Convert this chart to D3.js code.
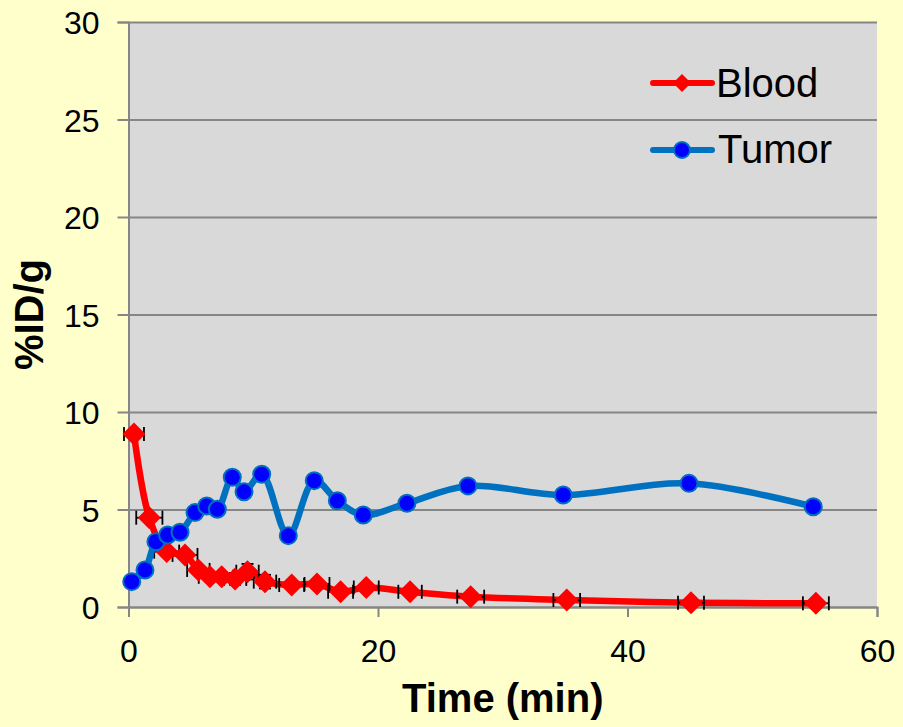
<!DOCTYPE html>
<html>
<head>
<meta charset="utf-8">
<script src="https://cdn.jsdelivr.net/npm/d3@7"></script>
<style>
  body { margin: 0; background: #FFFFCC; }
  text { font-family: "Liberation Sans", Arial, sans-serif; fill: #000; }
</style>
</head>
<body>
<div id="chart-area"></div>
<script>
// %ID/g over time, blood vs tumor

const WIDTH = 903;
const HEIGHT = 727;

// blood series (min, %ID/g) with x / y error
const bloodTime = [0.44, 1.67, 3.06, 4.53, 5.6, 6.53, 7.47, 8.54, 9.54, 10.94, 13.08, 15.11, 17.0, 19.06, 22.57, 27.43, 35.13, 45.09, 55.1];
const bloodValue = [8.87, 4.58, 2.84, 2.67, 1.9, 1.55, 1.55, 1.44, 1.81, 1.3, 1.13, 1.18, 0.78, 1.0, 0.78, 0.53, 0.36, 0.22, 0.19];
const bloodTimeErr = [0.8, 1.05, 1.0, 1.0, 0.9, 0.9, 0.9, 0.9, 0.9, 0.9, 1.0, 1.0, 1.0, 1.0, 0.94, 1.08, 1.07, 1.04, 1.04];
const bloodValueErr = [0.1, 0.2, 0.2, 0.2, 0.2, 0.15, 0.15, 0.3, 0.4, 0.35, 0.15, 0.15, 0.1, 0.1, 0.1, 0.05, 0.05, 0.05, 0.05];

// tumor series
const tumorTime = [0.26, 1.32, 2.2, 3.14, 4.13, 5.33, 6.27, 7.12, 8.32, 9.26, 10.68, 12.81, 14.89, 16.74, 18.82, 22.32, 27.21, 34.85, 44.93, 54.89];
const tumorValue = [1.3, 1.9, 3.35, 3.69, 3.83, 4.84, 5.18, 5.01, 6.65, 5.91, 6.81, 3.66, 6.48, 5.45, 4.72, 5.32, 6.21, 5.74, 6.34, 5.14];

const xTicks = [0, 20, 40, 60];
const yTicks = [0, 5, 10, 15, 20, 25, 30];

const margin = {top: 22, right: 26, bottom: 120, left: 128.5};

let svg = d3.select("#chart-area").append("svg")
    .attr("width", WIDTH)
    .attr("height", HEIGHT);

svg.append("rect")
    .attr("width", WIDTH)
    .attr("height", HEIGHT)
    .attr("fill", "#FFFFCC");

let xScale = d3.scaleLinear().domain([0, 60]).range([margin.left, WIDTH - margin.right]);
let yScale = d3.scaleLinear().domain([0, 30]).range([HEIGHT - margin.bottom, margin.top]);

// plot area
svg.append("rect")
    .attr("x", xScale(0))
    .attr("y", yScale(30))
    .attr("width", xScale(60) - xScale(0))
    .attr("height", yScale(0) - yScale(30))
    .attr("fill", "#D9D9D9");

// horizontal grid lines
svg.append("g")
    .attr("transform", `translate(${xScale(0)},0)`)
    .call(d3.axisLeft(yScale).tickValues(yTicks).tickSize(-(xScale(60) - xScale(0))).tickFormat(""))
    .call(g => g.select(".domain").remove())
    .call(g => g.selectAll("line").attr("stroke", "#868686").attr("stroke-width", 2));

// y axis
svg.append("g")
    .attr("transform", `translate(${xScale(0)},0)`)
    .call(d3.axisLeft(yScale).tickValues(yTicks).tickSize(11).tickPadding(18))
    .call(g => g.select(".domain").attr("stroke", "#868686").attr("stroke-width", 2))
    .call(g => g.selectAll("line").attr("stroke", "#868686").attr("stroke-width", 2))
    .call(g => g.selectAll("text").attr("font-size", 32).attr("font-family", "Liberation Sans, Arial, sans-serif").attr("dy", "0.36em"));

// x axis
svg.append("g")
    .attr("transform", `translate(0,${yScale(0)})`)
    .call(d3.axisBottom(xScale).tickValues(xTicks).tickSize(10).tickPadding(22))
    .call(g => g.select(".domain").attr("stroke", "#868686").attr("stroke-width", 2))
    .call(g => g.selectAll("line").attr("stroke", "#868686").attr("stroke-width", 2))
    .call(g => g.selectAll("text").attr("font-size", 32).attr("font-family", "Liberation Sans, Arial, sans-serif").attr("dy", "0.71em"));

// axis titles
svg.append("text")
    .attr("x", (xScale(0) + xScale(60)) / 2)
    .attr("y", 712)
    .attr("text-anchor", "middle")
    .attr("font-size", 40)
    .attr("font-weight", "bold")
    .text("Time (min)");

svg.append("text")
    .attr("transform", `translate(43,${yScale(15)}) rotate(-90)`)
    .attr("text-anchor", "middle")
    .attr("font-size", 40)
    .attr("font-weight", "bold")
    .text("%ID/g");

const blood = bloodTime.map((t, i) => ({t: t, v: bloodValue[i], et: bloodTimeErr[i], ev: bloodValueErr[i]}));
const tumor = tumorTime.map((t, i) => ({t: t, v: tumorValue[i]}));

let line = d3.line()
    .x(d => xScale(d.t))
    .y(d => yScale(d.v))
    .curve(d3.curveCatmullRom.alpha(0.5));

// blood line
svg.append("path")
    .datum(blood)
    .attr("fill", "none")
    .attr("stroke", "#FF0000")
    .attr("stroke-width", 6.5)
    .attr("stroke-linejoin", "round")
    .attr("d", line);

// error bars (blood)
let err = svg.append("g").attr("stroke", "#000").attr("stroke-width", 1.8);
blood.forEach(d => {
    let cx = xScale(d.t), cy = yScale(d.v);
    let x1 = xScale(d.t - d.et), x2 = xScale(d.t + d.et);
    err.append("line").attr("x1", x1).attr("x2", x2).attr("y1", cy).attr("y2", cy);
    err.append("line").attr("x1", x1).attr("x2", x1).attr("y1", cy - 7).attr("y2", cy + 7);
    err.append("line").attr("x1", x2).attr("x2", x2).attr("y1", cy - 7).attr("y2", cy + 7);
    let y1 = yScale(d.v + d.ev), y2 = yScale(d.v - d.ev);
    err.append("line").attr("x1", cx).attr("x2", cx).attr("y1", y1).attr("y2", y2);
    err.append("line").attr("x1", cx - 6).attr("x2", cx + 6).attr("y1", y1).attr("y2", y1);
    err.append("line").attr("x1", cx - 6).attr("x2", cx + 6).attr("y1", y2).attr("y2", y2);
});

const diamond = s => `M0,${-s}L${s},0L0,${s}L${-s},0Z`;

svg.selectAll(".blood-pt")
    .data(blood)
    .enter().append("path")
    .attr("class", "blood-pt")
    .attr("transform", d => `translate(${xScale(d.t)},${yScale(d.v)})`)
    .attr("d", diamond(11.5))
    .attr("fill", "#FF0000");

// tumor line
svg.append("path")
    .datum(tumor)
    .attr("fill", "none")
    .attr("stroke", "#0070C0")
    .attr("stroke-width", 6.5)
    .attr("stroke-linejoin", "round")
    .attr("d", line);

svg.selectAll(".tumor-pt")
    .data(tumor)
    .enter().append("circle")
    .attr("class", "tumor-pt")
    .attr("cx", d => xScale(d.t))
    .attr("cy", d => yScale(d.v))
    .attr("r", 8.5)
    .attr("fill", "#0000FF")
    .attr("stroke", "#0070C0")
    .attr("stroke-width", 2);

// legend
let legend = svg.append("g");
legend.append("line")
    .attr("x1", 653).attr("x2", 712).attr("y1", 83).attr("y2", 83)
    .attr("stroke", "#FF0000").attr("stroke-width", 6).attr("stroke-linecap", "round");
legend.append("path")
    .attr("transform", "translate(682,83)")
    .attr("d", diamond(9))
    .attr("fill", "#FF0000");
legend.append("text")
    .attr("x", 716).attr("y", 97)
    .attr("font-size", 40)
    .text("Blood");

legend.append("line")
    .attr("x1", 653).attr("x2", 712).attr("y1", 150).attr("y2", 150)
    .attr("stroke", "#0070C0").attr("stroke-width", 6).attr("stroke-linecap", "round");
legend.append("circle")
    .attr("cx", 682).attr("cy", 150).attr("r", 8)
    .attr("fill", "#0000FF").attr("stroke", "#0070C0").attr("stroke-width", 2);
legend.append("text")
    .attr("x", 718).attr("y", 163)
    .attr("font-size", 40)
    .text("Tumor");
</script>
</body>
</html>
